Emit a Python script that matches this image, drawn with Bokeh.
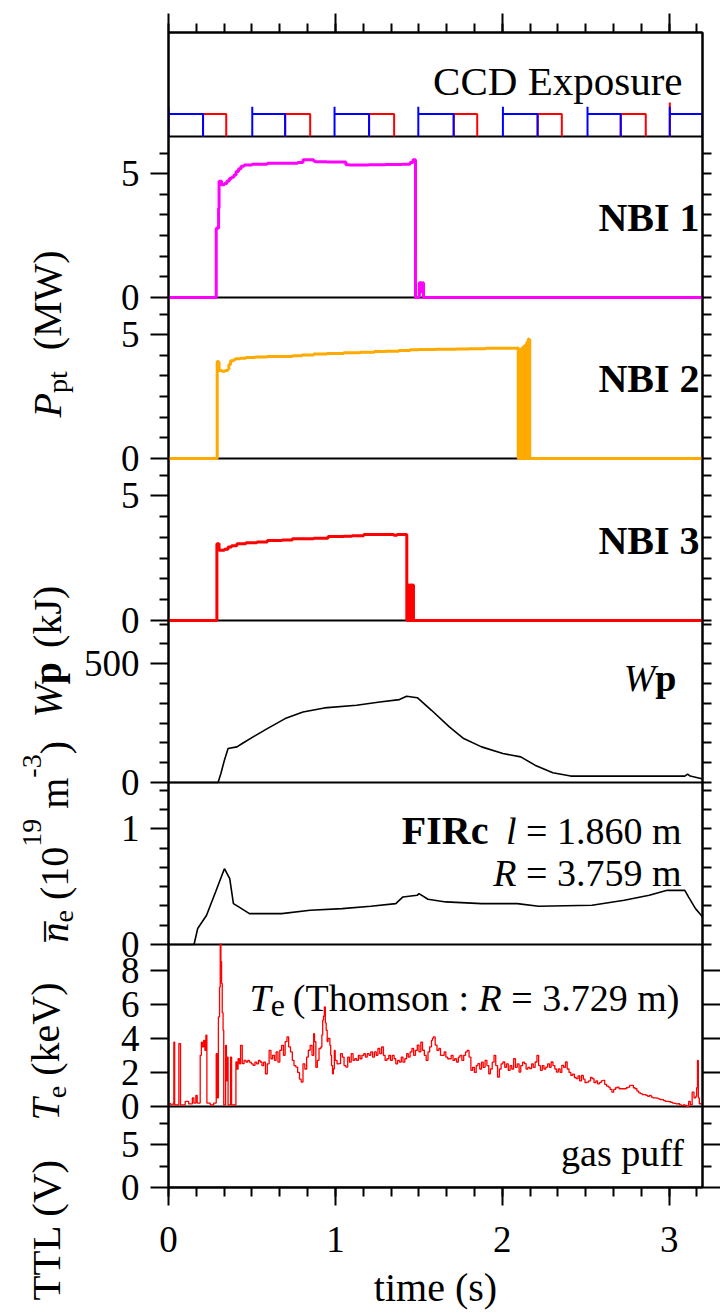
import math
from bokeh.plotting import figure
from bokeh.layouts import row
from bokeh.models import Range1d, LinearAxis, FixedTicker, SingleIntervalTicker, Span, Label
from bokeh.embed import file_html
from bokeh.resources import INLINE

FONT = "Liberation Serif"

# ------------------------------------------------------------------ data
# CCD exposure TTL signals (s)
CCD_BLUE_RISE = [0.0, 0.502, 0.995, 1.497, 2.004, 2.511, 3.004]
CCD_BLUE_FALL = [0.207, 0.699, 1.202, 1.709, 2.212, 2.710, 3.2]
CCD_RED_FALL = [0.346, 0.849, 1.352, 1.850, 2.357, 2.860]
CCD_LEVEL = 5.0
CCD_SPIKE = 6.6
CCD_RED_SPIKE_T = [3.004]
CCD_RED_SPIKE_V = [7.5]

# NBI port-through powers (MW)
NBI1_T = [0.0, 0.286, 0.300, 0.303, 0.318, 0.335, 0.350, 0.365, 0.378, 0.392,
          0.405, 0.420, 0.435, 0.453, 0.500, 0.592, 0.700, 0.774, 0.806, 0.870,
          0.880, 0.950, 1.063, 1.084, 1.200, 1.300, 1.400, 1.448, 1.465, 1.480,
          1.503, 1.508, 1.512, 1.518, 1.524, 1.528, 3.2]
NBI1_V = [0.0, 2.8, 3.6, 4.69, 4.55, 4.6, 4.7, 4.8, 4.85, 4.95,
          5.09, 5.2, 5.3, 5.35, 5.38, 5.42, 5.42, 5.45, 5.56, 5.5,
          5.48, 5.47, 5.36, 5.35, 5.36, 5.37, 5.38, 5.45, 5.56, 0.0,
          0.6, 0.2, 0.6, 0.3, 0.6, 0.0, 0.0]

NBI2_T = [0.0, 0.292, 0.300, 0.303, 0.320, 0.340, 0.355, 0.362, 0.372, 0.390,
          0.400, 0.430, 0.464, 0.520, 0.592, 0.660, 0.742, 0.800, 0.870, 0.950,
          1.050, 1.150, 1.234, 1.300, 1.380, 1.448, 1.500, 1.600, 1.726, 1.800,
          1.900, 2.000, 2.090, 2.096, 2.100, 2.104, 2.108, 2.112, 2.116, 2.120,
          2.124, 2.128, 2.132, 2.136, 2.140, 2.144, 2.148, 2.152, 2.156, 2.160,
          2.163, 2.165, 3.2]
NBI2_V = [0.0, 3.92, 3.9, 3.55, 3.52, 3.55, 3.6, 3.8, 3.95, 3.99,
          4.03, 4.05, 4.08, 4.1, 4.12, 4.12, 4.15, 4.18, 4.22, 4.24,
          4.27, 4.29, 4.32, 4.33, 4.36, 4.39, 4.4, 4.41, 4.42, 4.43,
          4.45, 4.45, 4.46, 0.0, 4.4, 0.0, 4.4, 0.0, 4.45, 0.0,
          4.5, 0.0, 4.55, 0.0, 4.6, 0.0, 4.7, 0.0, 4.82, 0.0,
          4.8, 0.0, 0.0]

NBI3_T = [0.0, 0.290, 0.303, 0.335, 0.357, 0.378, 0.410, 0.464, 0.530, 0.592,
          0.680, 0.742, 0.870, 0.956, 1.050, 1.100, 1.170, 1.300, 1.350, 1.370,
          1.428, 1.432, 1.436, 1.440, 1.444, 1.448, 1.452, 1.456, 1.460, 1.464,
          1.468, 3.2]
NBI3_V = [0.0, 3.08, 2.82, 2.86, 2.95, 3.0, 3.08, 3.12, 3.15, 3.21,
          3.23, 3.28, 3.3, 3.37, 3.38, 3.4, 3.45, 3.45, 3.42, 3.45,
          0.0, 1.42, 0.0, 1.42, 0.0, 1.42, 0.0, 1.42, 0.0, 1.42,
          0.0, 0.0]

# stored energy (kJ)
WP_T = [0.0, 0.297, 0.314, 0.335, 0.357, 0.410, 0.442, 0.507, 0.592, 0.699,
        0.806, 0.934, 1.127, 1.266, 1.384, 1.427, 1.491, 1.576, 1.683, 1.769,
        1.876, 2.004, 2.111, 2.196, 2.303, 2.410, 3.094, 3.111, 3.126, 3.190, 3.2]
WP_V = [0, 0, 38, 94, 143, 150, 164, 192, 227, 269,
        297, 314, 325, 339, 349, 363, 357, 304, 234, 185,
        150, 122, 108, 73, 41, 27, 27, 35, 27, 17, 15]

# line-averaged density (1e19 m^-3)
NE_T = [0.0, 0.153, 0.175, 0.228, 0.282, 0.335, 0.367, 0.389, 0.421, 0.485,
        0.678, 0.849, 1.041, 1.212, 1.362, 1.405, 1.490, 1.501, 1.555, 1.662,
        1.876, 2.090, 2.218, 2.538, 2.731, 2.881, 2.988, 3.094, 3.116, 3.158, 3.2]
NE_V = [0, 0, 0.138, 0.253, 0.454, 0.655, 0.569, 0.353, 0.325, 0.267,
        0.267, 0.296, 0.310, 0.330, 0.353, 0.411, 0.425, 0.44, 0.391, 0.368,
        0.353, 0.353, 0.330, 0.339, 0.382, 0.425, 0.468, 0.468, 0.411, 0.310, 0.239]

# electron temperature, Thomson (keV)
TE_T = [
    0.000, 0.014, 0.028, 0.032, 0.037, 0.053, 0.062, 0.068, 0.072, 0.100,
    0.121, 0.143, 0.152, 0.164, 0.172, 0.190, 0.197, 0.203, 0.211, 0.218,
    0.224, 0.230, 0.250, 0.271, 0.286, 0.292, 0.299, 0.306, 0.310, 0.314,
    0.318, 0.322, 0.327, 0.331, 0.342, 0.347, 0.353, 0.357, 0.372, 0.378,
    0.404, 0.410, 0.417, 0.425, 0.432, 0.442, 0.453, 0.464, 0.475, 0.485,
    0.496, 0.507, 0.518, 0.528, 0.539, 0.549, 0.560, 0.570, 0.581, 0.592,
    0.603, 0.614, 0.624, 0.635, 0.645, 0.656, 0.667, 0.678, 0.689, 0.699,
    0.710, 0.720, 0.731, 0.742, 0.752, 0.763, 0.774, 0.785, 0.795, 0.806,
    0.817, 0.828, 0.838, 0.849, 0.860, 0.870, 0.875, 0.883, 0.892, 0.902,
    0.913, 0.919, 0.924, 0.929, 0.934, 0.940, 0.945, 0.951, 0.956, 0.967,
    0.972, 0.977, 0.983, 0.988, 0.994, 0.999, 1.010, 1.020, 1.031, 1.042,
    1.052, 1.063, 1.074, 1.084, 1.095, 1.106, 1.116, 1.127, 1.138, 1.148,
    1.159, 1.170, 1.180, 1.191, 1.202, 1.212, 1.223, 1.234, 1.245, 1.255,
    1.266, 1.277, 1.288, 1.298, 1.309, 1.320, 1.330, 1.341, 1.352, 1.362,
    1.373, 1.384, 1.395, 1.405, 1.416, 1.427, 1.437, 1.448, 1.459, 1.469,
    1.480, 1.491, 1.501, 1.512, 1.522, 1.533, 1.544, 1.555, 1.565, 1.576,
    1.582, 1.587, 1.598, 1.609, 1.620, 1.630, 1.641, 1.652, 1.662, 1.673,
    1.683, 1.694, 1.705, 1.715, 1.726, 1.737, 1.747, 1.758, 1.769, 1.780,
    1.790, 1.801, 1.812, 1.822, 1.833, 1.844, 1.854, 1.865, 1.876, 1.886,
    1.897, 1.908, 1.919, 1.929, 1.940, 1.951, 1.961, 1.972, 1.983, 1.993,
    2.004, 2.015, 2.025, 2.036, 2.047, 2.057, 2.068, 2.079, 2.090, 2.101,
    2.111, 2.122, 2.133, 2.143, 2.154, 2.165, 2.176, 2.186, 2.197, 2.208,
    2.218, 2.229, 2.240, 2.250, 2.261, 2.272, 2.283, 2.293, 2.304, 2.315,
    2.325, 2.336, 2.347, 2.357, 2.368, 2.379, 2.389, 2.400, 2.411, 2.421,
    2.432, 2.443, 2.454, 2.464, 2.475, 2.486, 2.496, 2.507, 2.518, 2.529,
    2.539, 2.550, 2.561, 2.571, 2.582, 2.593, 2.603, 2.614, 2.625, 2.636,
    2.646, 2.657, 2.668, 2.679, 2.689, 2.700, 2.711, 2.722, 2.732, 2.743,
    2.754, 2.764, 2.775, 2.786, 2.796, 2.807, 2.818, 2.828, 2.839, 2.850,
    2.861, 2.871, 2.882, 2.893, 2.903, 2.914, 2.924, 2.935, 2.946, 2.956,
    2.967, 2.978, 2.988, 2.999, 3.010, 3.020, 3.031, 3.042, 3.053, 3.063,
    3.074, 3.085, 3.095, 3.106, 3.117, 3.127, 3.138, 3.149, 3.160, 3.165,
    3.170, 3.175, 3.181, 3.200,
]
TE_V = [
    0.16, 0.10, 0.20, 3.78, 0.10, 0.10, 3.69, 3.69, 0.10, 0.30,
    0.15, 0.50, 0.20, 0.65, 0.20, 3.00, 3.78, 3.50, 3.88, 3.30,
    4.18, 0.20, 0.10, 0.20, 3.10, 0.50, 5.25, 7.00, 9.53, 8.50,
    7.22, 5.50, 4.47, 0.10, 3.59, 1.50, 2.90, 0.10, 2.90, 0.10,
    2.61, 2.20, 2.80, 2.50, 3.59, 2.51, 2.70, 2.61, 2.70, 2.60,
    2.50, 2.41, 2.60, 2.50, 2.70, 2.61, 2.40, 2.60, 1.92, 2.50,
    3.29, 2.80, 3.00, 2.71, 3.20, 2.60, 3.30, 3.59, 3.00, 3.80,
    4.08, 3.50, 3.20, 2.71, 2.40, 2.31, 2.00, 1.60, 1.43, 2.50,
    2.20, 2.90, 3.30, 3.59, 3.00, 4.27, 3.80, 2.30, 2.71, 3.40,
    3.49, 4.20, 5.06, 5.30, 5.84, 4.90, 4.47, 3.80, 4.00, 3.59,
    3.00, 2.40, 1.92, 2.20, 3.29, 2.70, 2.50, 2.51, 3.10, 2.90,
    2.40, 2.31, 2.90, 2.60, 3.10, 2.70, 2.80, 2.71, 3.00, 2.80,
    3.00, 3.10, 2.90, 3.10, 3.00, 3.20, 2.90, 3.20, 3.00, 3.40,
    3.10, 3.49, 3.00, 2.70, 2.80, 3.00, 2.70, 3.00, 2.80, 2.50,
    2.70, 2.61, 2.90, 2.60, 2.80, 3.10, 2.90, 3.20, 3.40, 3.00,
    3.29, 3.60, 3.20, 3.78, 3.30, 3.00, 2.71, 3.20, 3.50, 3.88,
    4.00, 4.08, 3.60, 3.29, 3.40, 3.00, 3.00, 3.20, 2.90, 2.80,
    2.80, 3.00, 2.70, 2.80, 2.61, 2.90, 3.00, 2.70, 3.00, 3.20,
    3.29, 2.90, 2.12, 2.30, 2.00, 2.40, 2.51, 2.20, 2.60, 2.30,
    2.71, 2.40, 1.92, 2.20, 2.60, 3.00, 2.40, 1.73, 2.20, 2.50,
    2.61, 2.30, 2.50, 2.12, 2.40, 2.20, 2.80, 2.30, 2.50, 2.02,
    2.40, 2.60, 2.51, 2.20, 2.30, 2.22, 2.50, 2.30, 2.61, 3.00,
    2.40, 2.12, 2.40, 2.20, 2.31, 2.50, 2.30, 2.61, 2.40, 2.20,
    2.02, 2.20, 2.00, 2.41, 2.30, 2.61, 2.20, 2.00, 1.82, 1.90,
    1.70, 1.63, 1.80, 1.50, 1.82, 1.60, 1.40, 1.43, 1.50, 1.70,
    1.63, 1.40, 1.50, 1.33, 1.40, 1.50, 1.53, 1.30, 1.20, 1.14,
    1.00, 0.84, 1.00, 1.10, 1.14, 1.04, 1.04, 1.04, 1.04, 1.10,
    1.14, 1.24, 1.24, 1.10, 1.04, 0.90, 0.80, 0.75, 0.70, 0.70,
    0.65, 0.60, 0.65, 0.55, 0.50, 0.50, 0.49, 0.45, 0.40, 0.40,
    0.35, 0.30, 0.30, 0.28, 0.25, 0.20, 0.18, 0.15, 0.16, 0.10,
    0.05, 0.10, 0.06, 0.00, 0.30, 0.10, 0.84, 0.50, 0.60, 1.10,
    2.70, 0.50, 0.16, 0.10,
]

# gas puff TTL (V)
GAS_T = [0.0, 3.2]
GAS_V = [0.0, 0.0]

# tick values per panel
NBI_TICKS = [0, 5]
WP_TICKS = [0, 500]
NE_TICKS = [0, 1]
TE_TICKS = [0, 2, 4, 6, 8]
TTL_TICKS = [0, 5]

# ------------------------------------------------------------------ layout
TOTAL_W, TOTAL_H = 720, 1316
LAB_W = 80                      # width of the left strip holding the axis titles
XMAX = 3.2
FL, FR, FT, FB = 168, 702, 32, 1187
FW, FH = FR - FL, FB - FT
PXS = FW / XMAX

# panel: (screen top, screen bottom, data lo, data hi, minor step)
PANELS = {
    "ccd": (32, 136, 0.0, 23.0, None),
    "nbi1": (136, 297, 0.0, 6.5, 5 / 6),
    "nbi2": (297, 458, 0.0, 6.5, 5 / 6),
    "nbi3": (458, 620, 0.0, 6.5, 5 / 6),
    "wp": (620, 782, 0.0, 682.0, 500 / 6),
    "ne": (782, 944, 0.0, 1.4, 1 / 6),
    "te": (944, 1106, 0.0, 9.5, None),
    "ttl": (1106, 1187, 0.0, 9.5, 2.5),
}
MAJORS = {"nbi1": NBI_TICKS, "nbi2": NBI_TICKS, "nbi3": NBI_TICKS, "wp": WP_TICKS,
          "ne": NE_TICKS, "te": TE_TICKS, "ttl": TTL_TICKS}


def gpos(name, v):
    top, bot, lo, hi, _ = PANELS[name]
    gb, gt = FB - bot, FB - top
    return round(gb + (v - lo) / (hi - lo) * (gt - gb), 4)


p = figure(width=TOTAL_W - LAB_W, height=TOTAL_H, x_range=Range1d(0, XMAX),
           y_range=Range1d(0, FH), output_backend="svg", toolbar_location=None,
           min_border_left=FL - LAB_W, min_border_right=TOTAL_W - FR,
           min_border_top=FT, min_border_bottom=TOTAL_H - FB)
p.frame_align = False
p.background_fill_color = "white"
p.border_fill_color = "white"
p.grid.visible = False
p.outline_line_color = "black"
p.outline_line_width = 2

extra = {}
for name, (top, bot, lo, hi, _) in PANELS.items():
    gb, gt = FB - bot, FB - top
    s = (hi - lo) / (gt - gb)
    extra[name] = Range1d(lo - gb * s, lo + (FH - gb) * s)
p.extra_y_ranges = extra

# separators between panels
for name, (top, bot, lo, hi, _) in PANELS.items():
    if bot < FB:
        p.add_layout(Span(location=FB - bot, dimension="width", line_color="black",
                          line_width=2, level="underlay"))

# ---- ticks on the left/right axes
left_major, left_minor, labels = [], [], {}
right_major, right_minor = [], []
for name, majors in MAJORS.items():
    top, bot, lo, hi, step = PANELS[name]
    for v in majors:
        g = gpos(name, v)
        left_major.append(g)
        labels[g] = str(v)
        if name in ("te", "ttl"):
            right_major.append(g)
        else:
            right_minor.append(g)
    if step:
        k = 1
        while k * step < hi - 1e-9:
            v = k * step
            if all(abs(v - m) > 1e-6 for m in majors):
                g = gpos(name, v)
                left_minor.append(g)
                right_minor.append(g)
            k += 1


def style_axis(ax, major_out, minor_out):
    ax.axis_line_color = "black"
    ax.axis_line_width = 2
    ax.major_tick_line_color = "black"
    ax.minor_tick_line_color = "black"
    ax.major_tick_line_width = 2
    ax.minor_tick_line_width = 2
    ax.major_tick_in = 0
    ax.minor_tick_in = 0
    ax.major_tick_out = major_out
    ax.minor_tick_out = minor_out
    ax.major_label_text_font = FONT
    ax.major_label_text_color = "black"


def hide_labels(ax):
    ax.major_label_text_font_size = "0px"
    ax.major_label_text_color = None
    ax.major_label_standoff = 0


ly = p.yaxis[0]
ly.ticker = FixedTicker(ticks=left_major, minor_ticks=left_minor)
ly.major_label_overrides = labels
style_axis(ly, 18, 9)
ly.major_label_text_font_size = "37px"
ly.major_label_standoff = 11

ry = LinearAxis(ticker=FixedTicker(ticks=right_major, minor_ticks=right_minor))
style_axis(ry, 18, 9)
hide_labels(ry)
p.add_layout(ry, "right")

bx = p.xaxis[0]
bx.ticker = SingleIntervalTicker(interval=1, num_minor_ticks=6)
style_axis(bx, 18, 9)
bx.major_label_text_font_size = "37px"
bx.major_label_standoff = 21
bx.axis_label = "time (s)"
bx.axis_label_text_font = FONT
bx.axis_label_text_font_size = "40px"
bx.axis_label_text_font_style = "normal"
bx.axis_label_text_color = "black"
bx.axis_label_standoff = 10

tx = LinearAxis(ticker=SingleIntervalTicker(interval=1, num_minor_ticks=6))
style_axis(tx, 19, 9)
hide_labels(tx)
p.add_layout(tx, "above")

# ------------------------------------------------------------------ traces
# CCD exposure pulses (only the pulses, the low level lies on the panel edge)
red_xs, red_ys = [], []
for i, f in enumerate(CCD_RED_FALL):
    b = CCD_BLUE_FALL[i]
    red_xs.append([b, b, f, f])
    red_ys.append([0.0, CCD_LEVEL, CCD_LEVEL, 0.0])
for t, v in zip(CCD_RED_SPIKE_T, CCD_RED_SPIKE_V):
    red_xs.append([t, t])
    red_ys.append([0.0, v])
p.multi_line(red_xs, red_ys, y_range_name="ccd", line_color="#ff0000", line_width=2)

blue_xs, blue_ys = [], []
for r, f in zip(CCD_BLUE_RISE, CCD_BLUE_FALL):
    blue_xs.append([r, r, r, f, f])
    blue_ys.append([0.0, CCD_SPIKE, CCD_LEVEL, CCD_LEVEL, 0.0])
p.multi_line(blue_xs, blue_ys, y_range_name="ccd", line_color="#0000ff", line_width=2)

p.step(NBI1_T, NBI1_V, mode="after", y_range_name="nbi1", line_color="#ff00ff", line_width=3)
p.step(NBI2_T, NBI2_V, mode="after", y_range_name="nbi2", line_color="#ffaa00", line_width=3)
p.step(NBI3_T, NBI3_V, mode="after", y_range_name="nbi3", line_color="#ff0000", line_width=3)
p.line(WP_T, WP_V, y_range_name="wp", line_color="black", line_width=1.6)
p.line(NE_T, NE_V, y_range_name="ne", line_color="black", line_width=1.6)
p.step(TE_T, TE_V, mode="after", y_range_name="te", line_color="#ff0000", line_width=1.3)
p.line(GAS_T, GAS_V, y_range_name="ttl", line_color="black", line_width=1.5)

# ------------------------------------------------------------------ texts
W_REG = {' ': .25, '(': .333, ')': .333, '.': .25, ':': .278, '=': .564, '-': .333, '_': .5,
         'M': .889, 'W': .944, 'V': .722, 'T': .611, 'L': .611, 'C': .667, 'D': .722,
         'E': .611, 'k': .5, 'J': .389, 'e': .444, 'm': .778, 'p': .5, 't': .278, 's': .389,
         'h': .5, 'o': .5, 'n': .5, 'a': .444, 'g': .5, 'u': .5, 'f': .333, 'i': .278,
         'x': .5, 'r': .333}
W_ITA = {'P': .611, 'W': .833, 'n': .5, 'T': .556, 'R': .611, 'l': .278, ' ': .25}
W_BOLD = {'p': .556, 'F': .611, 'I': .389, 'R': .722, 'c': .444, 'N': .722, 'B': .667, ' ': .25}
TABLES = {"normal": W_REG, "italic": W_ITA, "bold": W_BOLD}


def twidth(s, size, style):
    tab = TABLES[style]
    return sum(tab.get(ch, W_REG.get(ch, 0.5)) for ch in s) * size


# strip at the left for the rotated axis titles
lab = figure(width=LAB_W, height=TOTAL_H, x_range=Range1d(0, LAB_W),
             y_range=Range1d(0, TOTAL_H), output_backend="svg", toolbar_location=None,
             x_axis_location=None, y_axis_location=None,
             min_border_left=0, min_border_right=0, min_border_top=0, min_border_bottom=0)
lab.frame_align = False
lab.grid.visible = False
lab.outline_line_color = None
lab.background_fill_color = "white"
lab.border_fill_color = "white"


def put(target, sx, sy, text, size, style, angle=0.0):
    if target is lab:
        X, Y = sx, TOTAL_H - sy
    else:
        X, Y = (sx - FL) / PXS, FB - sy
    target.add_layout(Label(x=X, y=Y, text=text, angle=angle, text_font=FONT,
                            text_font_size=f"{size}px", text_font_style=style,
                            text_color="black", text_align="left",
                            text_baseline="alphabetic"))


def rich(target, segs, sx, sy, vertical=False, align="left"):
    items = []
    for seg in segs:
        t, size, style = seg[0], seg[1], seg[2]
        shift = seg[3] if len(seg) > 3 else 0
        gap = seg[4] if len(seg) > 4 else 0
        lead = len(t) - len(t.lstrip(' '))
        gap += lead * 0.25 * size
        t = t.lstrip(' ')
        items.append((t, size, style, shift, gap, twidth(t, size, style)))
    total = sum(it[4] + it[5] for it in items)
    if vertical:
        pos = sy
        for t, size, style, shift, gap, w in items:
            pos -= gap
            put(target, sx + shift, pos, t, size, style, angle=math.pi / 2)
            pos -= w
    else:
        pos = sx - total if align == "right" else sx
        for t, size, style, shift, gap, w in items:
            pos += gap
            put(target, pos, sy + shift, t, size, style)
            pos += w


# panel annotations
rich(p, [("CCD Exposure", 41, "normal")], 682, 80, align="right")
rich(p, [("NBI 1", 40, "bold")], 699, 217, align="right")
rich(p, [("NBI 2", 40, "bold")], 699, 378, align="right")
rich(p, [("NBI 3", 40, "bold")], 699, 540, align="right")
rich(p, [("W", 38, "italic"), ("p", 38, "bold")], 676, 677, align="right")
rich(p, [("FIRc", 40, "bold")], 488, 830, align="right")
rich(p, [("l", 38, "italic"), (" = 1.860 m", 38, "normal")], 681, 830, align="right")
rich(p, [("R", 38, "italic"), (" = 3.759 m", 38, "normal")], 681, 872, align="right")
rich(p, [("T", 38, "italic"), ("e", 32, "normal", 8), ("(Thomson :", 38, "normal", 0, 8),
         (" R", 38, "italic"), (" = 3.729 m)", 38, "normal")], 249, 997)
rich(p, [("gas puff", 38, "normal")], 684, 1152, align="right")

# rotated axis titles
rich(lab, [("P", 40, "italic"), ("pt", 28, "normal", 10), ("(MW)", 40, "normal", 0, 21)],
     47, 417, vertical=True)
rich(lab, [("W", 40, "italic"), ("p", 40, "bold"), ("(kJ)", 40, "normal", 0, 14)],
     47, 717, vertical=True)
rich(lab, [("n", 40, "italic"), ("e", 28, "normal", 9), (" (10", 40, "normal"),
           ("19", 28, "normal", -23), (" m", 40, "normal"), ("-3", 28, "normal", -23),
           (")", 40, "normal")], 54, 942, vertical=True)
put(lab, 54 - 27, 941, "_", 40, "normal", angle=math.pi / 2)
rich(lab, [("T", 40, "italic"), ("e", 28, "normal", 11), (" (keV)", 40, "normal")],
     45, 1120, vertical=True)
rich(lab, [("TTL (V)", 41, "normal")], 45, 1300, vertical=True)

layout = row(lab, p)
open("out.html", "w").write(file_html(layout, INLINE))
